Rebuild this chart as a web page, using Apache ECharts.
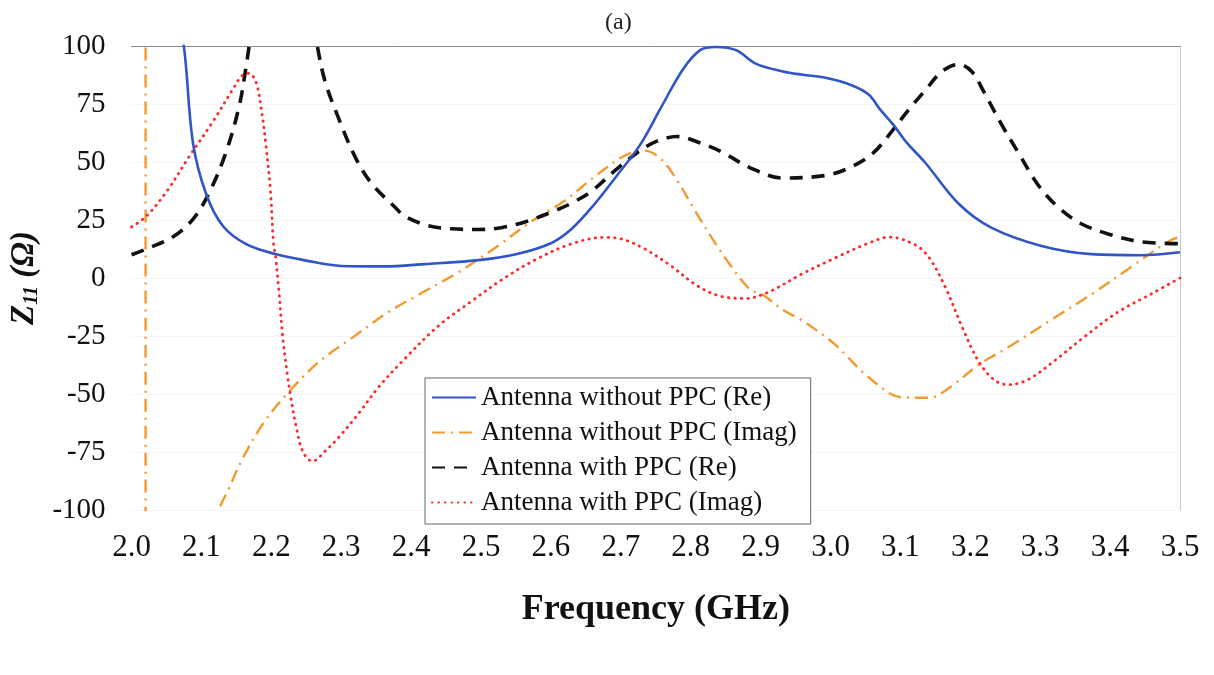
<!DOCTYPE html>
<html>
<head>
<meta charset="utf-8">
<script src="https://cdn.jsdelivr.net/npm/echarts@6/dist/echarts.min.js"></script>
<style>
html,body{margin:0;padding:0;background:#fff;}
#chart{width:1214px;height:675px;}
</style>
</head>
<body>
<div id="chart"></div>
<script>
// ---- data (frequency in GHz, Z11 in ohm) ----
const yTicks = [-100, -75, -50, -25, 0, 25, 50, 75, 100];
const xTicks = [2.0, 2.1, 2.2, 2.3, 2.4, 2.5, 2.6, 2.7, 2.8, 2.9, 3.0, 3.1, 3.2, 3.3, 3.4, 3.5];

const seriesNames = [
  'Antenna without PPC (Re)',
  'Antenna without PPC (Imag)',
  'Antenna with PPC (Re)',
  'Antenna with PPC (Imag)'
];

const fBlue = [2.0, 2.03, 2.055, 2.075, 2.088, 2.107, 2.131, 2.164, 2.206, 2.25, 2.3, 2.36, 2.42, 2.5, 2.55, 2.6, 2.629, 2.66, 2.694, 2.728, 2.757, 2.789, 2.814, 2.836, 2.865, 2.893, 2.932, 2.96, 2.993, 3.031, 3.055, 3.07, 3.09, 3.11, 3.135, 3.183, 3.23, 3.302, 3.373, 3.444, 3.5];
const zBlue = [260, 190, 135, 99.5, 58, 36, 22.3, 14.6, 10.3, 7.5, 5.2, 5.0, 6.0, 7.8, 10.2, 15, 21, 31, 44, 57.6, 73.2, 90, 98.3, 99.6, 98.2, 92.4, 89, 87.6, 86.3, 83, 79, 73, 66, 58, 49.9, 32.1, 21.7, 13.8, 10.3, 9.8, 11.1];

const fOrange = [2.0, 2.02, 2.0201, 2.08, 2.11, 2.125, 2.138, 2.159, 2.189, 2.225, 2.267, 2.316, 2.367, 2.41, 2.467, 2.523, 2.572, 2.619, 2.661, 2.704, 2.733, 2.757, 2.78, 2.804, 2.828, 2.856, 2.885, 2.903, 2.932, 2.956, 2.97, 3.007, 3.055, 3.102, 3.141, 3.174, 3.212, 3.255, 3.316, 3.377, 3.434, 3.482, 3.5];
const zOrange = [900, 1000, -1000, -300, -150, -100.6, -91.6, -77.8, -62.4, -49.1, -36.4, -25.7, -14.8, -7.3, 2.4, 13.6, 24.4, 33.2, 43.3, 52.5, 54.9, 51.4, 42.3, 30.1, 18.3, 5.8, -5, -7.2, -13.8, -17.7, -20.4, -28.8, -42.9, -51.4, -51.6, -46.4, -37.4, -29.7, -18, -6.3, 5.6, 15.5, 17.8];

const fBlack = [2.0, 2.026, 2.06, 2.088, 2.111, 2.135, 2.154, 2.164, 2.17, 2.19, 2.215, 2.24, 2.255, 2.266, 2.277, 2.296, 2.32, 2.344, 2.377, 2.391, 2.424, 2.458, 2.495, 2.529, 2.566, 2.6, 2.629, 2.657, 2.694, 2.728, 2.751, 2.78, 2.814, 2.846, 2.885, 2.932, 2.993, 3.027, 3.06, 3.088, 3.112, 3.135, 3.159, 3.183, 3.202, 3.22, 3.245, 3.269, 3.297, 3.326, 3.358, 3.397, 3.444, 3.5];
const zBlack = [10, 13.1, 17.9, 25.4, 36.7, 54.1, 74.1, 91.4, 104, 150, 190, 160, 120, 99.6, 84.6, 69, 52.1, 40.5, 30.5, 26.6, 22.6, 21.2, 20.9, 21.7, 24.5, 28.3, 32.2, 37.2, 46.9, 55, 58.9, 61, 58.2, 54.1, 47.5, 43.1, 44.2, 47.5, 53.6, 63.3, 72.6, 80.7, 88.9, 92.1, 89, 79.9, 66, 53.9, 40.1, 30.4, 23.5, 19, 15.6, 14.8];

const fRed = [2.0, 2.021, 2.05, 2.083, 2.117, 2.145, 2.158, 2.168, 2.178, 2.186, 2.192, 2.199, 2.203, 2.206, 2.211, 2.216, 2.223, 2.228, 2.235, 2.245, 2.259, 2.277, 2.296, 2.324, 2.353, 2.387, 2.438, 2.486, 2.533, 2.58, 2.629, 2.676, 2.7, 2.733, 2.771, 2.808, 2.842, 2.879, 2.913, 2.96, 3.007, 3.055, 3.084, 3.121, 3.141, 3.164, 3.188, 3.212, 3.235, 3.255, 3.283, 3.32, 3.363, 3.411, 3.458, 3.5];
const zRed = [22, 26.6, 37.2, 52.6, 67.7, 81.4, 87.2, 88.2, 84.5, 72, 57.9, 36.5, 15, 9.4, -6.4, -24.7, -41.8, -51.8, -63.3, -74.8, -79, -74.6, -68.8, -58.7, -47.2, -36, -20.9, -10.1, -0.1, 8.2, 14.7, 17.5, 16.9, 12.7, 5.4, -3.1, -7.8, -8.8, -5.8, 1.9, 8.7, 15.1, 17.6, 14.3, 8.8, -3.8, -20.9, -36, -44.1, -46, -43.7, -35.8, -25.4, -14.7, -7, 0];

function pairs(xs, ys) { return xs.map((x, i) => [x, ys[i]]); }

const serif = '"Liberation Serif", "DejaVu Serif", serif';
const chart = echarts.init(document.getElementById('chart'), null, {renderer: 'canvas'});

const commonLine = {
  type: 'line',
  showSymbol: false,
  symbol: 'none',
  smooth: 0.35,
  clip: true,
  animation: false,
  xAxisIndex: 0,
  yAxisIndex: 0
};

chart.setOption({
  animation: false,
  backgroundColor: '#ffffff',
  title: {
    text: '(a)',
    left: 600,
    top: 6,
    textStyle: {fontFamily: serif, fontSize: 24, fontWeight: 'normal', color: '#222'}
  },
  grid: {left: 125, right: 34, top: 46, bottom: 165, show: false},
  legend: {
    orient: 'vertical',
    left: 425,
    top: 378,
    data: seriesNames,
    itemWidth: 44,
    itemHeight: 14,
    itemGap: 8,
    padding: [6, 14, 8, 6],
    backgroundColor: '#ffffff',
    borderColor: '#666',
    borderWidth: 1,
    itemStyle: {opacity: 0},
    textStyle: {fontFamily: serif, fontSize: 27, color: '#111'}
  },
  xAxis: [{
    type: 'value',
    min: 2.0,
    max: 3.5,
    interval: 0.1,
    name: 'Frequency (GHz)',
    nameLocation: 'middle',
    nameGap: 82,
    nameTextStyle: {fontFamily: serif, fontSize: 36, fontWeight: 'bold', color: '#111'},
    axisLine: {show: false},
    axisTick: {show: false},
    splitLine: {show: false},
    axisLabel: {
      fontFamily: serif, fontSize: 31, color: '#111', margin: 22,
      formatter: v => v.toFixed(1)
    }
  }, {
    type: 'value',
    position: 'top',
    min: 2.0,
    max: 3.5,
    axisLine: {show: true, onZero: false, lineStyle: {color: '#8a8a8a', width: 1}},
    axisTick: {show: false},
    axisLabel: {show: false},
    splitLine: {show: false}
  }],
  yAxis: [{
    type: 'value',
    min: -100,
    max: 100,
    interval: 25,
    name: '{z|Z}{s|11}{z| (Ω)}',
    nameLocation: 'middle',
    nameRotate: 90,
    nameGap: 86,
    nameTextStyle: {
      rich: {
        z: {fontFamily: serif, fontSize: 33, fontWeight: 'bold', fontStyle: 'italic', color: '#111'},
        s: {fontFamily: serif, fontSize: 20, fontWeight: 'bold', fontStyle: 'italic', color: '#111', padding: [14, 0, 0, 0]}
      }
    },
    axisLine: {show: false},
    axisTick: {show: false},
    splitLine: {show: true, lineStyle: {color: '#ededed', width: 1, type: 'dotted'}},
    axisLabel: {fontFamily: serif, fontSize: 29, color: '#111', margin: 26}
  }, {
    type: 'value',
    position: 'right',
    min: -100,
    max: 100,
    axisLine: {show: true, onZero: false, lineStyle: {color: '#c8c8c8', width: 1}},
    axisTick: {show: false},
    axisLabel: {show: false},
    splitLine: {show: false}
  }],
  series: [
    Object.assign({}, commonLine, {
      name: seriesNames[0],
      data: pairs(fBlue, zBlue),
      z: 4,
      lineStyle: {color: '#2f55c8', width: 2.6, type: 'solid'},
      itemStyle: {color: '#2f55c8'}
    }),
    Object.assign({}, commonLine, {
      name: seriesNames[1],
      data: pairs(fOrange, zOrange),
      z: 2,
      lineStyle: {color: '#f29a2e', width: 2.4, type: [13, 6, 2, 6]},
      itemStyle: {color: '#f29a2e'}
    }),
    Object.assign({}, commonLine, {
      name: seriesNames[2],
      data: pairs(fBlack, zBlack),
      z: 3,
      lineStyle: {color: '#111111', width: 3.6, type: [13, 9]},
      itemStyle: {color: '#111111'}
    }),
    Object.assign({}, commonLine, {
      name: seriesNames[3],
      data: pairs(fRed, zRed),
      z: 3,
      lineStyle: {color: '#ff2a2a', width: 2.8, type: [0.5, 6], cap: 'round'},
      itemStyle: {color: '#ff2a2a'}
    })
  ]
});
</script>
</body>
</html>
